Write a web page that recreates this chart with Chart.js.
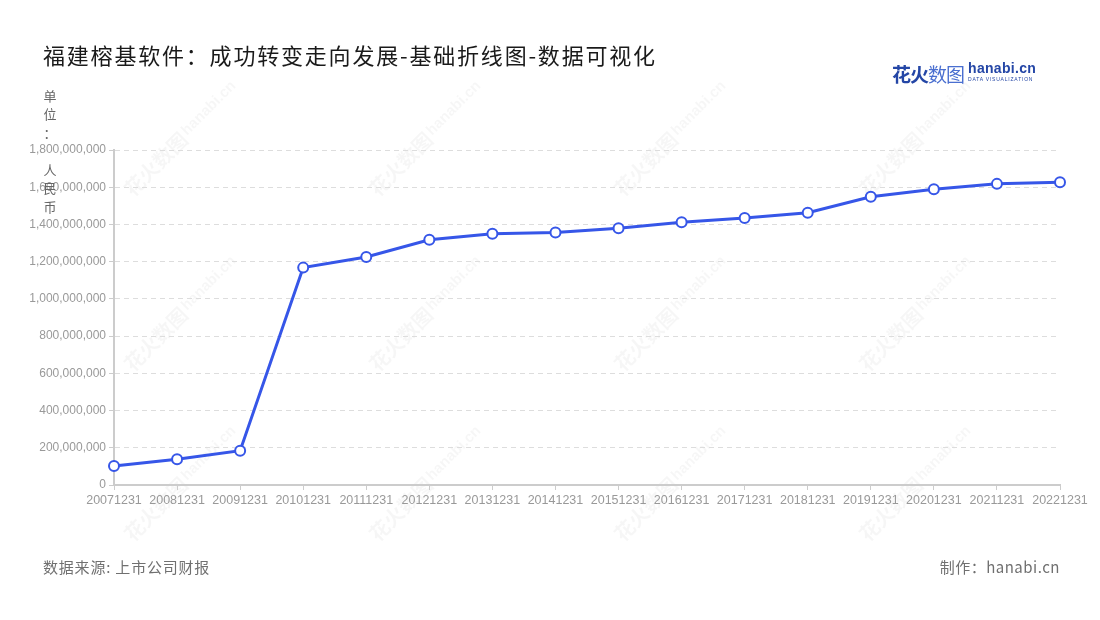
<!DOCTYPE html>
<html lang="zh">
  <head>
    <meta charset="UTF-8" />
    <title>福建榕基软件</title>
    <script src="https://cdn.jsdelivr.net/npm/chart.js"></script>
    <style>
      body { margin: 0; background: #fff; font-family: "Noto Sans CJK SC", "Noto Sans", sans-serif; }
      #wrap { position: relative; width: 1100px; height: 620px; overflow: hidden; }
      #title { position: absolute; left: 43px; top: 38px; font-size: 22px; letter-spacing: 1.8px; color: #1a1a1a; white-space: nowrap; line-height: 32px; }
      #source { position: absolute; left: 43px; top: 556px; font-size: 15px; letter-spacing: 0.8px; color: #707070; }
      #maker { position: absolute; right: 40px; top: 556px; font-size: 15px; letter-spacing: 0.5px; color: #707070; }
      #logo { position: absolute; left: 892px; top: 60px; white-space: nowrap; }
      #logo .cn { font-size: 19px; font-weight: bold; color: #2446a6; vertical-align: top; letter-spacing: -1px; }
      #logo .cn span { color: #4a6fd0; font-weight: normal; }
      #logo .en { display: inline-block; margin-left: 4px; vertical-align: top; }
      #logo .en b { display: block; font: bold 14px "Liberation Sans", sans-serif; color: #2446a6; line-height: 16px; letter-spacing: 0.3px; }
      #logo .en i { display: block; font: normal 5px "Liberation Sans", sans-serif; color: #2446a6; letter-spacing: 0.8px; font-style: normal; }
    </style>
  </head>
  <body>
    <div id="wrap">
      <canvas id="myChart"></canvas>
      <div id="title">福建榕基软件：成功转变走向发展-基础折线图-数据可视化</div>
      <div id="logo"><span class="cn">花火<span>数图</span></span><span class="en"><b>hanabi.cn</b><i>DATA VISUALIZATION</i></span></div>
      <div id="source">数据来源: 上市公司财报</div>
      <div id="maker">制作：hanabi.cn</div>
    </div>
    <script>
      const years = ["20071231", "20081231", "20091231", "20101231", "20111231", "20121231",
        "20131231", "20141231", "20151231", "20161231", "20171231", "20181231",
        "20191231", "20201231", "20211231", "20221231"];
      const revenue = [102000000, 138000000, 184000000, 1168000000, 1225000000, 1318000000,
        1350000000, 1357000000, 1380000000, 1412000000, 1434000000, 1463000000,
        1549000000, 1589000000, 1618000000, 1627000000];
      const unitLabel = ["单", "位", "：", "", "人", "民", "币"];

      // faint watermark + vertical unit label
      const extras = {
        id: "extras",
        beforeDraw(chart) {
          const c = chart.ctx;
          c.save();
          c.fillStyle = "rgba(0,0,0,0.035)";
          [170, 415, 660, 905].forEach((x) => {
            [150, 325, 495].forEach((y) => {
              c.save();
              c.translate(x, y);
              c.rotate(-Math.PI / 4);
              c.textBaseline = "middle";
              c.font = "bold 20px 'Noto Sans CJK SC'";
              c.fillText("花火数图", -60, 0);
              c.font = "bold 15px 'Liberation Sans'";
              c.fillText("hanabi.cn", 22, -2);
              c.restore();
            });
          });
          c.restore();
        },
        afterDraw(chart) {
          const c = chart.ctx;
          c.save();
          c.fillStyle = "#666";
          c.font = "13px 'Noto Sans CJK SC'";
          c.textAlign = "center";
          c.textBaseline = "middle";
          unitLabel.forEach((ch, i) => c.fillText(ch, 50, 96 + i * 18.5));
          c.restore();
        },
      };

      new Chart(document.getElementById("myChart"), {
        type: "line",
        data: {
          labels: years,
          datasets: [
            {
              data: revenue,
              borderColor: "#3656e8",
              borderWidth: 3,
              pointBackgroundColor: "#fff",
              pointBorderColor: "#3656e8",
              pointBorderWidth: 2,
              pointRadius: 5,
              tension: 0,
            },
          ],
        },
        options: {
          responsive: true,
          maintainAspectRatio: false,
          animation: false,
          layout: { padding: { top: 150, right: 40, left: 0, bottom: 0 } },
          plugins: { legend: { display: false }, tooltip: { enabled: false } },
          scales: {
            x: {
              offset: false,
              afterFit: (s) => { s.height = 135; },
              grid: { display: true, drawOnChartArea: false, color: "#ccc", tickLength: 5 },
              border: { color: "#ccc", width: 2 },
              ticks: {
                color: "#999",
                font: { size: 12.5, family: "Liberation Sans" },
                maxRotation: 0,
                autoSkip: false,
                padding: 3,
              },
            },
            y: {
              min: 0,
              max: 1800000000,
              afterFit: (s) => { s.width = 114; },
              border: { color: "#ccc", width: 2, dash: [5, 4] },
              grid: {
                color: (ctx) => (ctx.tick && ctx.tick.value === 0 ? "rgba(0,0,0,0)" : "#ddd"),
                tickColor: "#ccc",
                tickLength: 5,
                tickBorderDash: [],
              },
              ticks: {
                stepSize: 200000000,
                color: "#999",
                font: { size: 12, family: "Liberation Sans" },
                padding: 3,
                callback: (v) => v.toLocaleString("en-US"),
              },
            },
          },
        },
        plugins: [extras],
      });
    </script>
  </body>
</html>
